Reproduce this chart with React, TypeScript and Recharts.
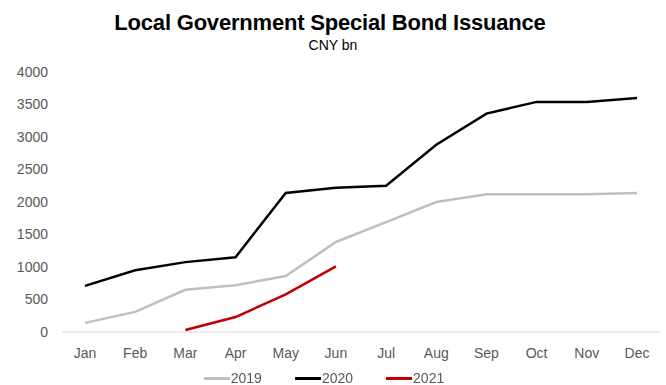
import React from 'react';
import { LineChart, Line, XAxis, YAxis, Legend } from 'recharts';

// months on the category axis
const months = ['Jan', 'Feb', 'Mar', 'Apr', 'May', 'Jun', 'Jul', 'Aug', 'Sep', 'Oct', 'Nov', 'Dec'];

// cumulative issuance, CNY bn
const y2019 = [140, 310, 650, 720, 860, 1385, 1690, 2000, 2120, 2120, 2120, 2140];
const y2020 = [710, 950, 1075, 1150, 2140, 2220, 2250, 2880, 3360, 3540, 3540, 3600];
const y2021 = [null, null, 30, 230, 580, 1010, null, null, null, null, null, null];

const yTicks = [0, 500, 1000, 1500, 2000, 2500, 3000, 3500, 4000];

const series = [
  { key: 'y2019', name: '2019', color: '#bfbfbf' },
  { key: 'y2020', name: '2020', color: '#000000' },
  { key: 'y2021', name: '2021', color: '#c00000' },
];

const data = months.map((m, i) => ({
  month: m,
  y2019: y2019[i],
  y2020: y2020[i],
  y2021: y2021[i],
}));

const font = '"Liberation Sans", Arial, sans-serif';

const LegendContent = () => (
  <div style={{ display: 'flex', justifyContent: 'center', gap: 33, fontFamily: font, fontSize: 14, color: '#595959', marginLeft: -12, paddingTop: 6 }}>
    {series.map((s) => (
      <div key={s.key} style={{ display: 'flex', alignItems: 'center' }}>
        <span style={{ display: 'inline-block', width: 26, height: 3, background: s.color, marginRight: 1 }} />
        <span>{s.name}</span>
      </div>
    ))}
  </div>
);

export default function App() {
  return (
    <div style={{ position: 'fixed', left: 0, top: 0, width: 666, height: 385, background: '#fff', fontFamily: font }}>
      <div style={{ position: 'absolute', top: 10, left: 0, width: 660, textAlign: 'center', fontSize: 22, fontWeight: 'bold', color: '#000', letterSpacing: -0.2 }}>
        Local Government Special Bond Issuance
      </div>
      <div style={{ position: 'absolute', top: 37, left: 0, width: 666, textAlign: 'center', fontSize: 14, color: '#000' }}>
        CNY bn
      </div>
      <LineChart width={666} height={385} data={data} margin={{ top: 72, right: 6, left: 0, bottom: 0 }}>
        <XAxis
          dataKey="month"
          height={32}
          padding={{ left: 23, right: 23 }}
          tickLine={false}
          axisLine={{ stroke: '#d9d9d9', strokeWidth: 1 }}
          tick={{ fontSize: 14, fill: '#595959', fontFamily: font }}
          tickMargin={10}
          interval={0}
        />
        <YAxis
          width={62}
          domain={[0, 4000]}
          ticks={yTicks}
          axisLine={false}
          tickLine={false}
          tickMargin={8}
          tick={{ fontSize: 14, fill: '#595959', fontFamily: font }}
        />
        <Legend verticalAlign="bottom" height={21} content={<LegendContent />} />
        {series.map((s) => (
          <Line
            key={s.key}
            type="linear"
            dataKey={s.key}
            name={s.name}
            stroke={s.color}
            strokeWidth={2.5}
            dot={false}
            connectNulls={false}
            isAnimationActive={false}
          />
        ))}
      </LineChart>
    </div>
  );
}
